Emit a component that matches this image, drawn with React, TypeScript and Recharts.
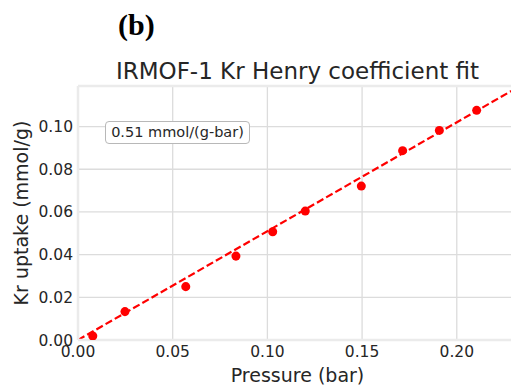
import React from "react";
import { ComposedChart, Scatter, Line, XAxis, YAxis, CartesianGrid, ReferenceLine, Label } from "recharts";

// measured isotherm points
const PRESSURE = [0.0078, 0.0248, 0.0569, 0.0834, 0.1028, 0.12, 0.1496, 0.1714, 0.1908, 0.2105];
const UPTAKE = [0.0019, 0.0133, 0.025, 0.0393, 0.0507, 0.0604, 0.0721, 0.0887, 0.0982, 0.1076];

// Henry fit line ends
const FIT_P = [0, 0.2318];
const FIT_U = [0, 0.1182];

const X_TICKS = [0, 0.05, 0.1, 0.15, 0.2];
const Y_TICKS = [0, 0.02, 0.04, 0.06, 0.08, 0.1];

const points = PRESSURE.map((p, i) => ({ p, u: UPTAKE[i] }));
const fit = FIT_P.map((p, i) => ({ p, u: FIT_U[i] }));

const FONT = "'DejaVu Sans', sans-serif";
const TEXT = "#262626";
const GRID = "#dcdcdc";
const FRAME = "#ebebeb";

export default function App() {
  return (
    <div style={{ position: "absolute", left: 0, top: 0, width: 511, height: 387, overflow: "hidden", background: "#fff" }}>
      <div style={{ position: "absolute", left: 118, top: 8, fontFamily: "'Liberation Serif', serif", fontWeight: "bold", fontSize: 30, color: "#000" }}>
        (b)
      </div>
      <div style={{ position: "absolute", left: 78, width: 439, top: 56, textAlign: "center", fontFamily: FONT, fontSize: 23, color: TEXT, lineHeight: "30px" }}>
        IRMOF-1 Kr Henry coefficient fit
      </div>

      <ComposedChart width={530} height={387} margin={{ top: 86, right: 13, bottom: 0, left: 0 }}>
        <CartesianGrid stroke={GRID} strokeWidth={1.3} horizontalValues={Y_TICKS} verticalValues={X_TICKS} />
        <XAxis
          type="number"
          dataKey="p"
          domain={[0, 0.2318]}
          ticks={X_TICKS}
          allowDataOverflow
          height={47}
          tickLine={false}
          tickSize={3}
          tickMargin={3}
          axisLine={{ stroke: FRAME, strokeWidth: 2.5 }}
          tickFormatter={(v: number) => v.toFixed(2)}
          tick={{ fontSize: 15.5, fill: TEXT, fontFamily: FONT }}
        >
          <Label value="Pressure (bar)" position="insideBottom" offset={5} style={{ fontSize: 19, fill: TEXT, fontFamily: FONT }} />
        </XAxis>
        <YAxis
          type="number"
          dataKey="u"
          domain={[0, 0.119]}
          ticks={Y_TICKS}
          allowDataOverflow
          width={78}
          tickLine={false}
          tickSize={3}
          tickMargin={2}
          axisLine={{ stroke: FRAME, strokeWidth: 2.5 }}
          tickFormatter={(v: number) => v.toFixed(2)}
          tick={{ fontSize: 15.5, fill: TEXT, fontFamily: FONT }}
        >
          <Label
            content={({ viewBox }: any) => {
              const cy = viewBox.y + viewBox.height / 2;
              return (
                <text x={28} y={cy} transform={`rotate(-90 28 ${cy})`} textAnchor="middle" fontSize={19} fill={TEXT} fontFamily={FONT}>
                  Kr uptake (mmol/g)
                </text>
              );
            }}
          />
        </YAxis>
        <ReferenceLine y={0.119} stroke={FRAME} strokeWidth={2.5} />
        <Scatter data={points} dataKey="u" fill="#ff0000" isAnimationActive={false} />
        <Line data={fit} dataKey="u" stroke="#ff0000" strokeWidth={2.2} strokeDasharray="7.4 3.2" dot={false} activeDot={false} isAnimationActive={false} />
      </ComposedChart>

      <div
        style={{
          position: "absolute",
          left: 105,
          top: 121,
          width: 143,
          height: 21,
          border: "1px solid #b8b8b8",
          borderRadius: 4,
          background: "#fff",
          fontFamily: FONT,
          fontSize: 14.5,
          color: TEXT,
          lineHeight: "21px",
          textAlign: "center",
        }}
      >
        0.51 mmol/(g-bar)
      </div>
    </div>
  );
}
